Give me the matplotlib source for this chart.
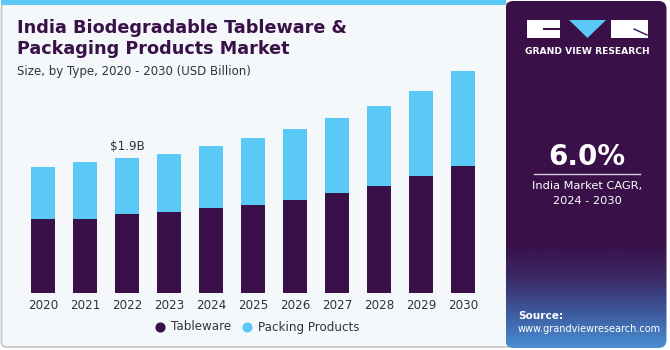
import matplotlib

matplotlib.use("Agg")
import matplotlib.pyplot as plt
import numpy as np
from matplotlib.colors import LinearSegmentedColormap
from matplotlib.patches import FancyBboxPatch, Polygon, Rectangle

YEARS = ["2020", "2021", "2022", "2023", "2024", "2025", "2026", "2027", "2028", "2029", "2030"]
TABLEWARE = [1.05, 1.05, 1.11, 1.14, 1.20, 1.24, 1.31, 1.41, 1.51, 1.65, 1.79]
PACKING = [0.73, 0.80, 0.79, 0.82, 0.87, 0.94, 1.00, 1.06, 1.13, 1.20, 1.34]
SERIES_NAMES = ["Tableware", "Packing Products"]
HIGHLIGHT_YEAR = "2022"
HIGHLIGHT_LABEL = "$1.9B"
CAGR_TEXT = "6.0%"

DARK = "#3A1048"
LIGHT = "#5BC9F5"
PANEL_BG = "#F4F8FB"
TEXT = "#333333"

W, H = 670, 350
fig = plt.figure(figsize=(W / 100, H / 100), dpi=100)
fig.patch.set_facecolor("white")

# background layer in pixel coords (y down)
bg = fig.add_axes([0, 0, 1, 1])
bg.set_xlim(0, W)
bg.set_ylim(H, 0)
bg.axis("off")

bg.add_patch(FancyBboxPatch((1.5, 3), 510, 344, boxstyle="round,pad=0,rounding_size=5",
                            facecolor=PANEL_BG, edgecolor="#C8C8C8", linewidth=1.3))
bg.add_patch(Rectangle((1, 0), 505, 5, facecolor=LIGHT, edgecolor="none"))

# right panel, dark with a bluish fade at the bottom
cmap = LinearSegmentedColormap.from_list(
    "panel",
    [(0.0, DARK), (0.70, DARK), (0.80, "#3A2A66"), (0.90, "#3D5A9E"), (1.0, "#4A8FD2")],
)
grad = np.linspace(0, 1, 256).reshape(-1, 1)
panel = FancyBboxPatch((505.5, 1), 161, 347, boxstyle="round,pad=0,rounding_size=8",
                       facecolor="none", edgecolor="none")
bg.add_patch(panel)
img = bg.imshow(grad, extent=(505.5, 666.5, 348, 1), cmap=cmap, aspect="auto", zorder=1)
img.set_clip_path(panel)

# logo
bg.add_patch(Rectangle((527, 20), 33, 18, facecolor="white", edgecolor="none", zorder=3))
bg.add_patch(Rectangle((543, 28), 17, 2, facecolor=DARK, edgecolor="none", zorder=4))
bg.add_patch(Polygon([(569, 20), (606, 20), (587.5, 38)], closed=True, facecolor=LIGHT,
                     edgecolor="none", zorder=3))
bg.add_patch(Rectangle((611, 20), 37, 18, facecolor="white", edgecolor="none", zorder=3))
bg.plot([634, 647], [29, 35], color=DARK, linewidth=1, zorder=4)
bg.text(587.5, 51, "GRAND VIEW RESEARCH", color="white", fontsize=6.6, fontweight="bold",
        ha="center", va="center", zorder=5)

bg.text(587, 157, CAGR_TEXT, color="white", fontsize=20, fontweight="bold",
        ha="center", va="center", zorder=5)
bg.plot([534, 640], [173.5, 173.5], color="#D8CCE0", linewidth=1, zorder=5)
bg.text(587, 186, "India Market CAGR,", color="white", fontsize=8.2,
        ha="center", va="center", zorder=5)
bg.text(587, 201, "2024 - 2030", color="white", fontsize=8.2,
        ha="center", va="center", zorder=5)
bg.text(518, 316, "Source:", color="white", fontsize=7.6, fontweight="bold",
        ha="left", va="center", zorder=5)
bg.text(518, 329, "www.grandviewresearch.com", color="white", fontsize=7.0,
        ha="left", va="center", zorder=5)

# titles
bg.text(17, 28, "India Biodegradable Tableware &", color=DARK, fontsize=12.7,
        fontweight="heavy", ha="left", va="center")
bg.text(17, 49, "Packaging Products Market", color=DARK, fontsize=12.7,
        fontweight="heavy", ha="left", va="center")
bg.text(17, 72, "Size, by Type, 2020 - 2030 (USD Billion)", color=TEXT, fontsize=8.5,
        ha="left", va="center")

# bar chart
x = np.arange(len(YEARS))
ymax = 3.3
base_px = 293.3
px_per_unit = 71.05
ax_h = ymax * px_per_unit
ax = fig.add_axes([22.05 / W, (H - base_px) / H, 461.9 / W, ax_h / H])
ax.set_facecolor("none")
ax.bar(x, TABLEWARE, width=0.58, color=DARK, label=SERIES_NAMES[0])
ax.bar(x, PACKING, width=0.58, bottom=TABLEWARE, color=LIGHT, label=SERIES_NAMES[1])
ax.set_xlim(-0.5, len(YEARS) - 0.5)
ax.set_ylim(0, ymax)
ax.set_xticks(x)
ax.set_xticklabels(YEARS, fontsize=8.6, color=TEXT)
ax.tick_params(axis="x", length=0, pad=4)
ax.set_yticks([])
for s in ax.spines.values():
    s.set_visible(False)

hi = YEARS.index(HIGHLIGHT_YEAR)
ax.text(hi, TABLEWARE[hi] + PACKING[hi] + 0.07, HIGHLIGHT_LABEL, ha="center", va="bottom",
        fontsize=8.6, color=TEXT)

# legend
for cx, tx, color, name in [(160, 171, DARK, SERIES_NAMES[0]), (247, 258, LIGHT, SERIES_NAMES[1])]:
    bg.scatter([cx], [327], s=40, color=color, zorder=5)
    bg.text(tx, 327, name, color=TEXT, fontsize=8.6, ha="left", va="center")

fig.savefig("out.png", dpi=100)
